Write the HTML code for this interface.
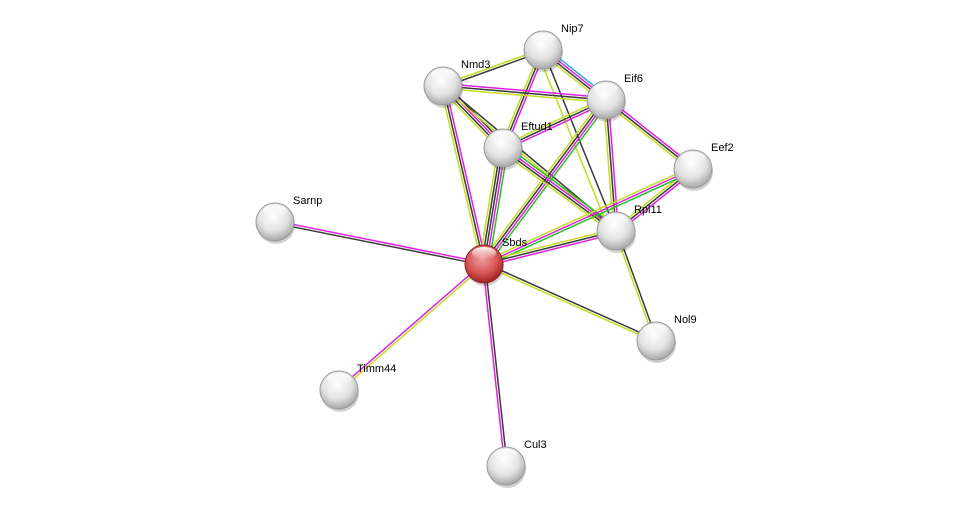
<!DOCTYPE html>
<html><head><meta charset="utf-8"><style>
html,body{margin:0;padding:0;background:#fff;width:975px;height:512px;overflow:hidden}
svg text{font-family:"Liberation Sans",Arial,sans-serif;font-size:11px;fill:#000}
</style></head><body>
<svg id="s" width="975" height="512" viewBox="0 0 975 512" xmlns="http://www.w3.org/2000/svg">
<defs>
<radialGradient id="gw" cx="0.45" cy="0.35" r="0.7">
<stop offset="0" stop-color="#ffffff"/><stop offset="0.55" stop-color="#e2e2e2"/><stop offset="1" stop-color="#9c9c9c"/></radialGradient>
<radialGradient id="gr" cx="0.45" cy="0.35" r="0.7">
<stop offset="0" stop-color="#f0a0a0"/><stop offset="0.55" stop-color="#d85858"/><stop offset="1" stop-color="#981818"/></radialGradient>
<linearGradient id="hl" x1="0" y1="0" x2="0" y2="1"><stop offset="0" stop-color="#fff" stop-opacity="0.95"/><stop offset="1" stop-color="#fff" stop-opacity="0"/></linearGradient>
</defs>
<g id="edges"></g>
<g id="nodes"></g>
</svg>
<script>
var N={Nip7:[543,50],Nmd3:[443,86],Eif6:[606,100],Eftud1:[503,148],Eef2:[693,169],Sarnp:[275,222],Rpl11:[616,231],Sbds:[484,264],Nol9:[656,341],Timm44:[339,390],Cul3:[506,466]};
var C={m:"#e020e0",k:"#3a3a3a",y:"#c4dc1c",g:"#22c422",c:"#20b0e0"};
var E=[["Nip7","Nmd3","ky"],["Nip7","Eif6","cmky"],["Nip7","Eftud1","mky"],["Nip7","Rpl11","k"],["Nip7","Rpl11","y",6],
["Nmd3","Eif6","mky"],["Nmd3","Eftud1","kmky"],["Nmd3","Sbds","mky"],["Nmd3","Rpl11","ky"],
["Eif6","Eftud1","mky"],["Eif6","Eef2","mky"],["Eif6","Rpl11","mky"],["Eif6","Sbds","gmky"],
["Eftud1","Sbds","gmkky"],["Eftud1","Rpl11","gmky"],["Eef2","Rpl11","mky"],["Eef2","Sbds","gmy"],
["Rpl11","Sbds","mky"],["Sbds","Sarnp","km"],["Sbds","Nol9","ky"],["Rpl11","Nol9","ky"],["Sbds","Timm44","ym"],["Sbds","Cul3","km"]];
var ns="http://www.w3.org/2000/svg",eg=document.getElementById("edges"),ng=document.getElementById("nodes");
E.forEach(function(e){var a=N[e[0]],b=N[e[1]],dx=b[0]-a[0],dy=b[1]-a[1],L=Math.hypot(dx,dy),px=-dy/L,py=dx/L,n=e[2].length,sp=2.4,extra=e[3]||0;
for(var i=0;i<n;i++){var o=(i-(n-1)/2)*sp+extra;var l=document.createElementNS(ns,"line");
l.setAttribute("x1",a[0]+px*o);l.setAttribute("y1",a[1]+py*o);l.setAttribute("x2",b[0]+px*o);l.setAttribute("y2",b[1]+py*o);
l.setAttribute("stroke",C[e[2][i]]);l.setAttribute("stroke-width","1.5");eg.appendChild(l);}});
for(var k in N){var p=N[k],r=19;
var sh=document.createElementNS(ns,"ellipse");sh.setAttribute("cx",p[0]+1);sh.setAttribute("cy",p[1]+3);sh.setAttribute("rx",r);sh.setAttribute("ry",r);sh.setAttribute("fill","#000");sh.setAttribute("opacity","0.18");ng.appendChild(sh);
var c=document.createElementNS(ns,"circle");c.setAttribute("cx",p[0]);c.setAttribute("cy",p[1]);c.setAttribute("r",r);
c.setAttribute("fill",k=="Sbds"?"url(#gr)":"url(#gw)");c.setAttribute("stroke",k=="Sbds"?"#8a2020":"#9a9a9a");c.setAttribute("stroke-width","1");ng.appendChild(c);
var h=document.createElementNS(ns,"ellipse");h.setAttribute("cx",p[0]);h.setAttribute("cy",p[1]-11);h.setAttribute("rx",12);h.setAttribute("ry",6);h.setAttribute("fill","url(#hl)");ng.appendChild(h);
var t=document.createElementNS(ns,"text");t.setAttribute("x",p[0]+18);t.setAttribute("y",p[1]-18);t.textContent=k;ng.appendChild(t);}
</script>
</body></html>
